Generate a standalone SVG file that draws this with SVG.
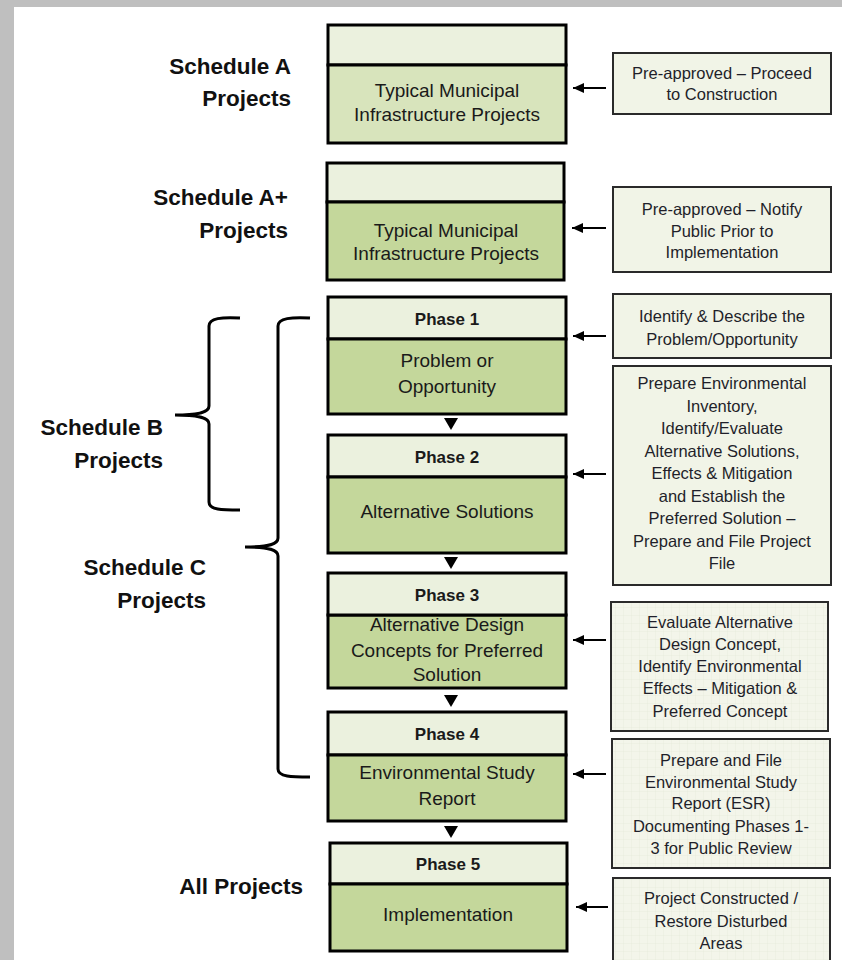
<svg xmlns="http://www.w3.org/2000/svg" width="842" height="960" viewBox="0 0 842 960">
<style>
.hdr{fill:#ebf1de;stroke:#000;stroke-width:3}
.body{fill:#c4d79b;stroke:#000;stroke-width:3}
.bodyA{fill:#d8e4bc;stroke:#000;stroke-width:3}
.note{fill:#f1f4e7;stroke:#2a2a2a;stroke-width:2}
.noteg{fill:url(#grid);stroke:#2a2a2a;stroke-width:2}
.mt{font-family:"Liberation Sans",Arial,sans-serif;font-size:19px;fill:#1a1a1a;text-anchor:middle}
.ph{font-family:"Liberation Sans",Arial,sans-serif;font-size:17px;font-weight:bold;fill:#1a1a1a;text-anchor:middle}
.nt{font-family:"Liberation Sans",Arial,sans-serif;font-size:16.5px;fill:#1f1f2a;text-anchor:middle}
.lab{font-family:"Liberation Sans",Arial,sans-serif;font-size:22.5px;font-weight:bold;fill:#111;text-anchor:end}
.con{stroke:#000;stroke-width:2;fill:none}
.brace{stroke:#000;stroke-width:3;fill:none}
.tri{fill:#000}
</style>
<defs>
<pattern id="grid" width="8" height="8" patternUnits="userSpaceOnUse">
<rect width="8" height="8" fill="#f3f5ea"/>
<path d="M8 0V8M0 8H8" stroke="#e3e8d6" stroke-width="0.6" fill="none"/>
</pattern>
<marker id="ah" markerWidth="11" markerHeight="10" refX="11" refY="5" orient="auto" markerUnits="userSpaceOnUse">
<path d="M0,0 L11,5 L0,10 Z" fill="#000"/>
</marker>
</defs>
<rect x="0" y="0" width="842" height="960" fill="#bfbfbf"/>
<rect x="14" y="7" width="828" height="953" fill="#fff"/>

<g id="label-schedA"><text class="lab" x="291" y="74">Schedule A</text><text class="lab" x="291" y="106">Projects</text></g>
<g id="label-schedAplus"><text class="lab" x="288" y="205">Schedule A+</text><text class="lab" x="288" y="238">Projects</text></g>
<g id="label-schedB"><text class="lab" x="163" y="435">Schedule B</text><text class="lab" x="163" y="468">Projects</text></g>
<g id="label-schedC"><text class="lab" x="206" y="575">Schedule C</text><text class="lab" x="206" y="608">Projects</text></g>
<g id="label-all"><text class="lab" x="303" y="894">All Projects</text></g>

<g id="braces">
<path class="brace" d="M240,318 C222,317 209,318 209,326 L209,406 C209,412 200,415 175,415 C200,415 209,418 209,424 L209,502 C209,510 222,510 240,510"/>
<path class="brace" d="M310,318 C292,317 278,318 278,326 L278,538 C278,544 270,547 245,547 C270,547 278,550 278,556 L278,769 C278,777 292,777 310,777"/>
</g>

<g id="boxA">
<rect class="hdr" x="328" y="25" width="238" height="40"/>
<rect class="bodyA" x="328" y="65" width="238" height="78"/>
<text class="mt" x="447" y="97">Typical Municipal</text>
<text class="mt" x="447" y="121">Infrastructure Projects</text>
</g>
<g id="boxAplus">
<rect class="hdr" x="327" y="163" width="237" height="39"/>
<rect class="body" x="327" y="202" width="237" height="78"/>
<text class="mt" x="446" y="237">Typical Municipal</text>
<text class="mt" x="446" y="260">Infrastructure Projects</text>
</g>
<g id="phase1">
<rect class="hdr" x="328" y="297" width="238" height="42"/>
<rect class="body" x="328" y="339" width="238" height="75"/>
<text class="ph" x="447" y="325">Phase 1</text>
<text class="mt" x="447" y="367">Problem or</text>
<text class="mt" x="447" y="393">Opportunity</text>
</g>
<g id="phase2">
<rect class="hdr" x="328" y="435" width="238" height="42"/>
<rect class="body" x="328" y="477" width="238" height="76"/>
<text class="ph" x="447" y="463">Phase 2</text>
<text class="mt" x="447" y="518">Alternative Solutions</text>
</g>
<g id="phase3">
<rect class="body" x="328" y="615" width="238" height="73"/>
<text class="mt" x="447" y="631">Alternative Design</text>
<text class="mt" x="447" y="657">Concepts for Preferred</text>
<text class="mt" x="447" y="681">Solution</text>
<rect class="hdr" x="328" y="573" width="238" height="42"/>
<text class="ph" x="447" y="601">Phase 3</text>
</g>
<g id="phase4">
<rect class="hdr" x="328" y="712" width="238" height="43"/>
<rect class="body" x="328" y="755" width="238" height="66"/>
<text class="ph" x="447" y="740">Phase 4</text>
<text class="mt" x="447" y="779">Environmental Study</text>
<text class="mt" x="447" y="805">Report</text>
</g>
<g id="phase5">
<rect class="hdr" x="330" y="843" width="237" height="41"/>
<rect class="body" x="330" y="884" width="237" height="67"/>
<text class="ph" x="448" y="870">Phase 5</text>
<text class="mt" x="448" y="921">Implementation</text>
</g>

<g id="noteA">
<rect class="note" x="613" y="53" width="218" height="61"/>
<text class="nt" x="722" y="79">Pre-approved – Proceed</text>
<text class="nt" x="722" y="100">to Construction</text>
</g>
<g id="noteAplus">
<rect class="note" x="613" y="187" width="218" height="85"/>
<text class="nt" x="722" y="215">Pre-approved – Notify</text>
<text class="nt" x="722" y="237">Public Prior to</text>
<text class="nt" x="722" y="258">Implementation</text>
</g>
<g id="note1">
<rect class="note" x="613" y="294" width="218" height="64"/>
<text class="nt" x="722" y="322">Identify &amp; Describe the</text>
<text class="nt" x="722" y="345">Problem/Opportunity</text>
</g>
<g id="note2">
<rect class="note" x="613" y="366" width="218" height="219"/>
<text class="nt" x="722" y="389">Prepare Environmental</text>
<text class="nt" x="722" y="411.5">Inventory,</text>
<text class="nt" x="722" y="434">Identify/Evaluate</text>
<text class="nt" x="722" y="456.5">Alternative Solutions,</text>
<text class="nt" x="722" y="479">Effects &amp; Mitigation</text>
<text class="nt" x="722" y="501.5">and Establish the</text>
<text class="nt" x="722" y="524">Preferred Solution –</text>
<text class="nt" x="722" y="546.5">Prepare and File Project</text>
<text class="nt" x="722" y="569">File</text>
</g>
<g id="note3">
<rect class="noteg" x="611" y="602" width="217" height="129"/>
<text class="nt" x="720" y="628">Evaluate Alternative</text>
<text class="nt" x="720" y="650">Design Concept,</text>
<text class="nt" x="720" y="672">Identify Environmental</text>
<text class="nt" x="720" y="694">Effects – Mitigation &amp;</text>
<text class="nt" x="720" y="717">Preferred Concept</text>
</g>
<g id="note4">
<rect class="noteg" x="612" y="739" width="218" height="129"/>
<text class="nt" x="721" y="766">Prepare and File</text>
<text class="nt" x="721" y="788">Environmental Study</text>
<text class="nt" x="721" y="809">Report (ESR)</text>
<text class="nt" x="721" y="832">Documenting Phases 1-</text>
<text class="nt" x="721" y="854">3 for Public Review</text>
</g>
<g id="note5">
<rect class="noteg" x="613" y="878" width="217" height="90"/>
<text class="nt" x="721" y="904">Project Constructed /</text>
<text class="nt" x="721" y="927">Restore Disturbed</text>
<text class="nt" x="721" y="949">Areas</text>
</g>

<g id="connectors">
<line class="con" x1="606" y1="88" x2="573" y2="88" marker-end="url(#ah)"/>
<line class="con" x1="606" y1="228" x2="572" y2="228" marker-end="url(#ah)"/>
<line class="con" x1="606" y1="336" x2="573" y2="336" marker-end="url(#ah)"/>
<line class="con" x1="606" y1="474" x2="573" y2="474" marker-end="url(#ah)"/>
<line class="con" x1="606" y1="640" x2="573" y2="640" marker-end="url(#ah)"/>
<line class="con" x1="606" y1="774" x2="573" y2="774" marker-end="url(#ah)"/>
<line class="con" x1="608" y1="907" x2="576" y2="907" marker-end="url(#ah)"/>
<path class="tri" d="M444,418 L458,418 L451,430 Z"/>
<path class="tri" d="M444,557 L458,557 L451,569 Z"/>
<path class="tri" d="M444,695 L458,695 L451,707 Z"/>
<path class="tri" d="M444,826 L458,826 L451,838 Z"/>
</g>
</svg>
